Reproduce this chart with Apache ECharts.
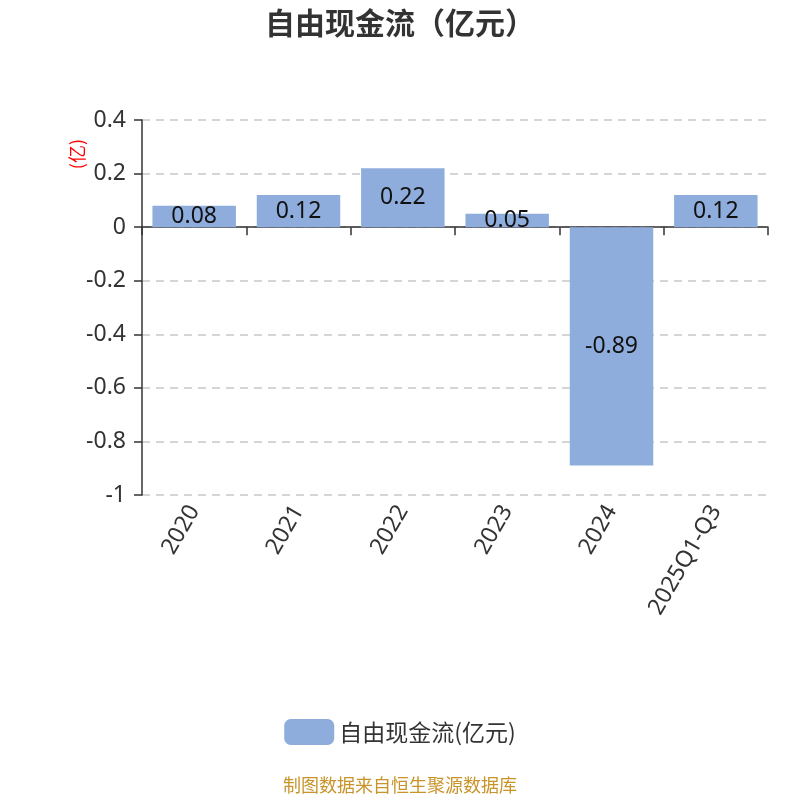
<!DOCTYPE html>
<html><head><meta charset="utf-8">
<script src="https://cdn.jsdelivr.net/npm/echarts@6/dist/echarts.min.js"></script>
<style>html,body{margin:0;padding:0;background:#fff}#c{width:800px;height:800px}</style>
</head><body><div id="c"></div>
<script>
const categories = ['2020','2021','2022','2023','2024','2025Q1-Q3'];
const values = [0.08, 0.12, 0.22, 0.05, -0.89, 0.12];
const seriesName = '自由现金流(亿元)';
const chart = echarts.init(document.getElementById('c'));
chart.setOption({
  animation:false,
  title:{text:'自由现金流（亿元）',left:'center',top:3,textStyle:{fontSize:30,fontWeight:'bold',color:'#333',fontFamily:'Noto Sans CJK SC'}},
  grid:{left:142,right:32,top:120,bottom:305},
  graphic:[
    {type:'text',left:68,top:139,rotation:Math.PI/2,style:{text:'(亿)',fill:'#ff0000',fontSize:18,fontFamily:'Noto Sans CJK SC'}},
    {type:'text',left:'center',top:776,style:{text:'制图数据来自恒生聚源数据库',fill:'#c8942a',fontSize:18,fontFamily:'Noto Sans CJK SC'}}
  ],
  legend:{bottom:50,left:'center',itemWidth:50,itemHeight:26,itemGap:12,icon:'roundRect',textStyle:{fontSize:23,color:'#333',fontFamily:'Noto Sans CJK SC'},data:[seriesName]},
  xAxis:{type:'category',data:categories,
    axisLine:{onZero:true,lineStyle:{color:'#333',width:1.5}},
    axisTick:{show:true,length:8,lineStyle:{color:'#333',width:1.5}},
    axisLabel:{rotate:60,fontSize:23,color:'#333',margin:12,interval:0,fontFamily:'Noto Sans'}},
  yAxis:{type:'value',min:-1,max:0.4,interval:0.2,
    axisLine:{show:true,lineStyle:{color:'#333',width:1.5}},
    axisTick:{show:true,length:8,lineStyle:{color:'#333',width:1.5}},
    axisLabel:{fontSize:23,color:'#333',margin:16,fontFamily:'Noto Sans',formatter:v=>Math.round(v*10)/10+''},
    splitLine:{lineStyle:{type:[8,6],color:'#c8c8c8',width:1.5}}},
  series:[{name:seriesName,type:'bar',data:values,barWidth:'80%',
    itemStyle:{color:'#8eaddc'},
    label:{show:true,position:'inside',fontSize:23,color:'#111',fontFamily:'Noto Sans'}}]
});
</script></body></html>
